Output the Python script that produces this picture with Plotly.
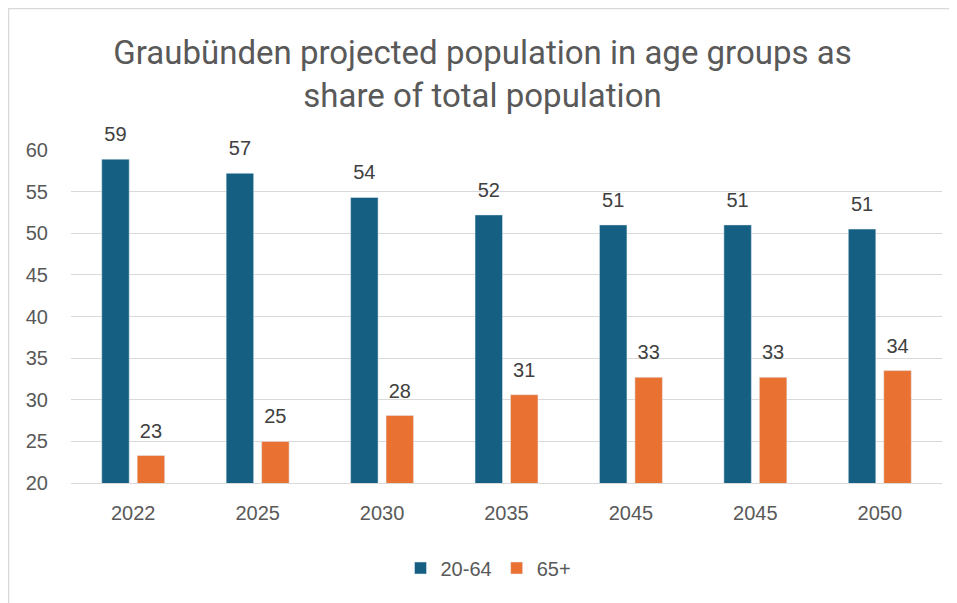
import plotly.graph_objects as go

years = ["2022", "2025", "2030", "2035", "2045", "2045", "2050"]
age_20_64 = [58.9, 57.2, 54.3, 52.2, 51.0, 51.0, 50.5]
age_65_plus = [23.3, 25.0, 28.1, 30.6, 32.7, 32.7, 33.5]
y_ticks = [20, 25, 30, 35, 40, 45, 50, 55, 60]

positions = list(range(len(years)))

# page has an 8px body margin; figure sized to fit the 957x603 window
W, H = 949, 595
ML, MR, MT, MB = 63, 15, 142, 120

LABEL_FONT = "Liberation Sans, Arial, sans-serif"
label_tpl = "<span style='font-size:20px'>%{y:.0f}</span><br> "

fig = go.Figure()
fig.add_trace(go.Bar(
    name="20-64", x=positions, y=age_20_64, marker_color="#156082",
    texttemplate=label_tpl, textposition="outside",
    textfont=dict(family=LABEL_FONT, size=10, color="#404040"),
    cliponaxis=False,
))
fig.add_trace(go.Bar(
    name="65+", x=positions, y=age_65_plus, marker_color="#E97132",
    texttemplate=label_tpl, textposition="outside",
    textfont=dict(family=LABEL_FONT, size=10, color="#404040"),
    cliponaxis=False,
))

pw = W - ML - MR
ph = H - MT - MB
def px_x(p):
    return (p - ML) / pw
def px_y(p):
    return (H - MB - p) / ph

fig.update_layout(
    width=W, height=H,
    margin=dict(l=ML, r=MR, t=MT, b=MB),
    paper_bgcolor="white", plot_bgcolor="white",
    barmode="group", bargap=0.43, bargroupgap=0.225,
    title=dict(
        text="Graubünden projected population in age groups as<br>share of total population",
        x=0.5, xanchor="center", y=1 - 56 / H, yanchor="middle",
        font=dict(family="Roboto, sans-serif", size=33, color="#595959"),
    ),
    font=dict(family=LABEL_FONT, color="#595959", size=20),
    showlegend=True,
    legend=dict(
        orientation="h", x=0.5 - 18 / pw, xanchor="center", y=px_y(560), yanchor="middle",
        font=dict(family=LABEL_FONT, size=20, color="#595959"), traceorder="normal",
    ),
    xaxis=dict(
        tickmode="array", tickvals=positions, ticktext=years,
        range=[-0.5, len(years) - 0.5], showgrid=False, zeroline=False,
        showline=True, linecolor="#d9d9d9", linewidth=1, ticks="",
        ticklabelstandoff=12,
        tickfont=dict(family=LABEL_FONT, size=20, color="#595959"),
    ),
    yaxis=dict(
        range=[20, 60], tickmode="array", tickvals=y_ticks,
        showgrid=True, gridcolor="#d9d9d9", gridwidth=1, zeroline=False,
        showline=False, ticks="", ticklabelstandoff=22,
        tickfont=dict(family=LABEL_FONT, size=20, color="#595959"),
    ),
    shapes=[
        dict(type="line", xref="paper", yref="paper",
             x0=px_x(0), x1=px_x(W), y0=px_y(0.5), y1=px_y(0.5),
             line=dict(color="#d9d9d9", width=1.5)),
        dict(type="line", xref="paper", yref="paper",
             x0=px_x(0.5), x1=px_x(0.5), y0=px_y(0), y1=px_y(H),
             line=dict(color="#d9d9d9", width=1.5)),
    ],
)

fig.write_html("out.html")
